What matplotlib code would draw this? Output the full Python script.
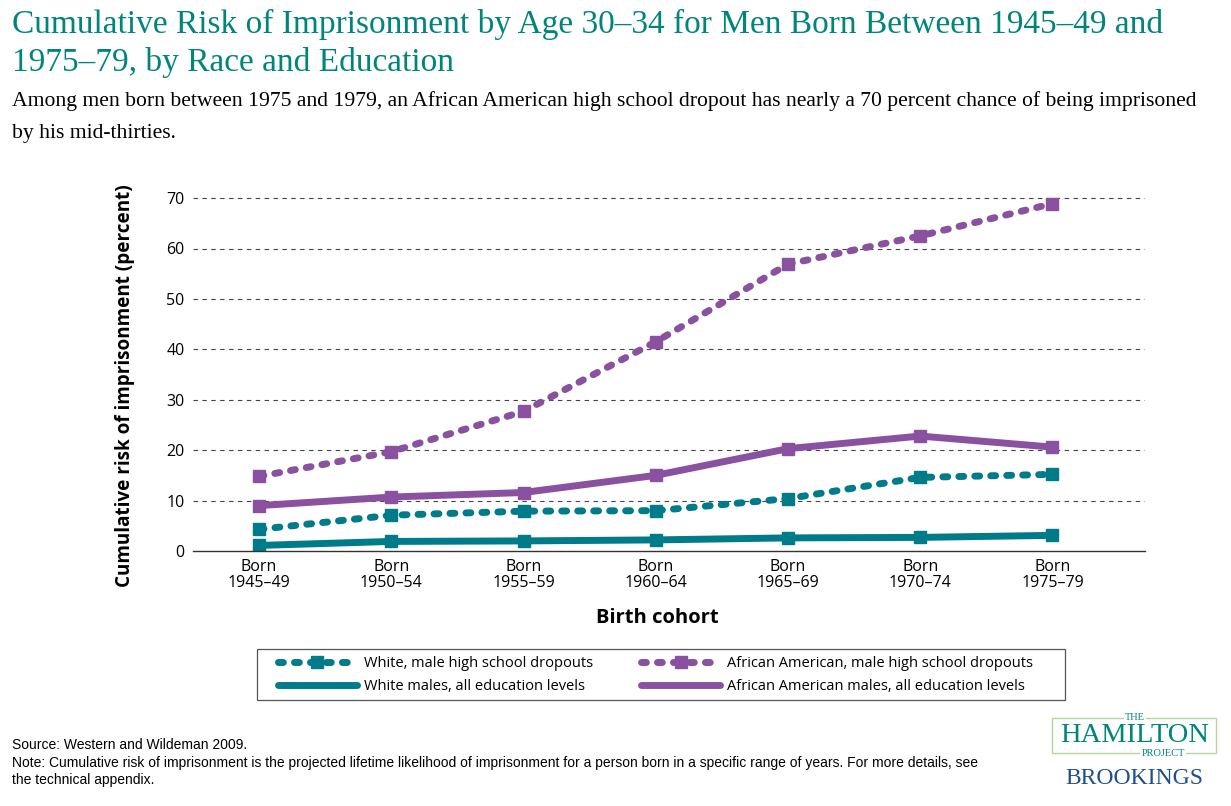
import numpy as np
import matplotlib
matplotlib.use("Agg")
import matplotlib.pyplot as plt
from matplotlib.patches import Rectangle
from matplotlib.lines import Line2D

cohorts = ["Born\n1945\u201349", "Born\n1950\u201354", "Born\n1955\u201359", "Born\n1960\u201364",
           "Born\n1965\u201369", "Born\n1970\u201374", "Born\n1975\u201379"]
white_dropouts = [4.3, 7.1, 7.9, 8.0, 10.4, 14.6, 15.2]
white_all = [1.1, 1.9, 2.0, 2.2, 2.6, 2.7, 3.1]
black_dropouts = [14.8, 19.7, 27.7, 41.5, 56.9, 62.5, 68.9]
black_all = [9.0, 10.7, 11.6, 15.0, 20.3, 22.8, 20.6]
yticks = [0, 10, 20, 30, 40, 50, 60, 70]

TEAL = "#007b8a"
PURPLE = "#8a51a0"
TITLE = "#00857a"
SANS = ["Open Sans", "DejaVu Sans"]
SERIF = ["Liberation Serif", "DejaVu Serif"]
W, H = 1231, 806

fig = plt.figure(figsize=(12.31, 8.06), dpi=100)
ax = fig.add_axes([193 / W, 1 - 551 / H, 952 / W, 363 / H])

x = np.arange(len(cohorts))
lw = 5
ms = 8
dash = dict(linestyle=(0, (0.7, 1.6)), dash_capstyle="round")
ax.plot(x, white_dropouts, color=TEAL, lw=lw, marker="s", ms=ms, **dash)
ax.plot(x, white_all, color=TEAL, lw=lw, marker="s", ms=ms)
ax.plot(x, black_dropouts, color=PURPLE, lw=lw, marker="s", ms=ms, **dash)
ax.plot(x, black_all, color=PURPLE, lw=lw, marker="s", ms=ms)

ax.set_xlim(-0.5, 6.7)
ax.set_ylim(0, 72)
ax.set_yticks(yticks)
ax.set_xticks(x)
ax.set_xticklabels(cohorts, fontsize=11.5, family=SANS, linespacing=1.0)
ax.set_yticklabels([str(v) for v in yticks], fontsize=11.5, family=SANS)
ax.tick_params(length=0, pad=6)
for yv in yticks[1:]:
    ax.axhline(yv, color="#444444", lw=0.8, ls=(0, (4, 4)), zorder=0)
for s in ["top", "right", "left"]:
    ax.spines[s].set_visible(False)
ax.spines["bottom"].set_color("#333333")
ax.spines["bottom"].set_linewidth(1.0)

fig.text(125 / W, 1 - 386 / H, "Cumulative risk of imprisonment (percent)", fontsize=13.6,
         family=SANS, fontweight="bold", rotation=90, ha="center", va="center")
fig.text(657 / W, 1 - 618 / H, "Birth cohort", fontsize=14.5, family=SANS, fontweight="bold",
         ha="center", va="center")

# legend
handles = [
    Line2D([], [], color=TEAL, lw=lw, marker="s", ms=ms, **dash),
    Line2D([], [], color=TEAL, lw=lw, solid_capstyle="round"),
    Line2D([], [], color=PURPLE, lw=lw, marker="s", ms=ms, **dash),
    Line2D([], [], color=PURPLE, lw=lw, solid_capstyle="round"),
]
labels = ["White, male high school dropouts", "White males, all education levels",
          "African American, male high school dropouts", "African American males, all education levels"]
fig.patches.append(Rectangle((257 / W, 1 - 700 / H), 808 / W, 51 / H, transform=fig.transFigure,
                             fill=False, edgecolor="#555555", lw=0.9))
fig.legend(handles, labels, ncol=2, loc="center left", bbox_to_anchor=(278 / W, 1 - 675 / H),
           prop={"family": SANS, "size": 10.5}, frameon=False, handlelength=5.4,
           columnspacing=3.3, labelspacing=0.55, borderpad=0, borderaxespad=0, handletextpad=0.5)

fig.text(0.01, 1 - 9 / H, "Cumulative Risk of Imprisonment by Age 30\u201334 for Men Born Between 1945\u201349 and\n"
         "1975\u201379, by Race and Education", family=SERIF, fontsize=24, color=TITLE,
         va="top", ha="left", linespacing=1.28)
fig.text(0.01, 1 - 91 / H, "Among men born between 1975 and 1979, an African American high school dropout has nearly a 70 percent chance of being imprisoned\n"
         "by his mid-thirties.", family=SERIF, fontsize=15.6, color="black", va="top", ha="left",
         linespacing=1.9)

for yy, line in [(745, "Source: Western and Wildeman 2009."),
                 (763, "Note: Cumulative risk of imprisonment is the projected lifetime likelihood of imprisonment for a person born in a specific range of years. For more details, see"),
                 (780, "the technical appendix.")]:
    fig.text(12 / W, 1 - yy / H, line, family="Liberation Sans", fontsize=10, va="center")

# logo
fig.patches.append(Rectangle((1052 / W, 1 - 753 / H), 164 / W, 35 / H, transform=fig.transFigure,
                             fill=False, edgecolor="#b5d69a", lw=1.0))
fig.text(1135 / W, 1 - 718 / H, "THE", family=SERIF, fontsize=7.5, color=TITLE, ha="center",
         va="center", bbox=dict(facecolor="white", edgecolor="none", pad=1))
fig.text(1135 / W, 1 - 735 / H, "HAMILTON", family=SERIF, fontsize=20.5, color=TITLE,
         ha="center", va="center")
fig.text(1163 / W, 1 - 753 / H, "PROJECT", family=SERIF, fontsize=7.5, color=TITLE, ha="center",
         va="center", bbox=dict(facecolor="white", edgecolor="none", pad=1))
fig.text(1134 / W, 1 - 778 / H, "BROOKINGS", family=SERIF, fontsize=17, color="#1f4e8c",
         ha="center", va="center")

fig.savefig("out.png", dpi=100)
